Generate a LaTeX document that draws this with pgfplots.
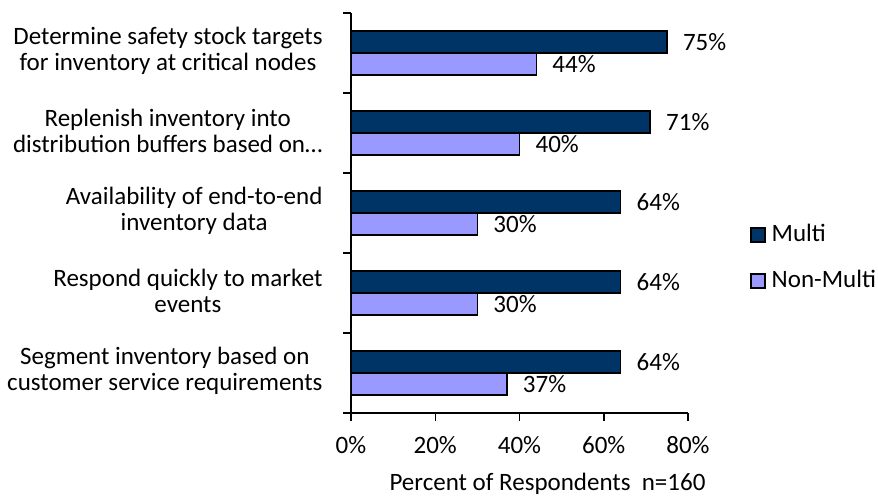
\documentclass[border=0pt]{standalone}
\usepackage{pgfplots}
\pgfplotsset{compat=1.18}
\usepackage{fontspec}
\setmainfont{Carlito}
\definecolor{multi}{HTML}{003366}
\definecolor{nonmulti}{HTML}{9999FF}
\begin{document}
\fontsize{25}{26.5}\selectfont
\begin{tikzpicture}
\useasboundingbox (0,0) rectangle (878pt,498pt);
\begin{axis}[
  at={(351pt,85pt)}, anchor=south west,
  scale only axis, width=337pt, height=400pt,
  xbar, bar width=22pt,
  xmin=0, xmax=80, ymin=-0.5, ymax=4.5,
  axis lines=left,
  axis line style={-, line width=1.5pt},
  /pgf/number format/assume math mode=true,
  xtick={0,20,40,60,80},
  xticklabel={\pgfmathprintnumber{\tick}\%},
  every major x tick/.append style={line width=1.5pt, black},
  ytick={0,1,2,3,4},
  every major y tick/.append style={draw=none},
  minor ytick={-0.5,0.5,1.5,2.5,3.5,4.5},
  every minor y tick/.append style={line width=1.5pt, black},
  tick align=outside,
  major tick length=8pt, minor tick length=8pt,
  yticklabels={{Segment inventory based on\\customer service requirements},{Respond quickly to market\\events},{Availability of end-to-end\\inventory data},{Replenish inventory into\\distribution buffers based on\ldots},{Determine safety stock targets\\for inventory at critical nodes}},
  yticklabel style={align=center, xshift=-12pt, yshift=2pt},
  xticklabel style={yshift=-7pt},
  xlabel={Percent of Respondents\ \ n=160},
  xlabel style={xshift=28pt, yshift=-2pt},
  point meta=x,
  nodes near coords={\pgfmathprintnumber{\pgfplotspointmeta}\%},
  every node near coord/.append style={anchor=west, xshift=7pt, black},
  legend style={at={(1.175,0.3875)}, anchor=west, draw=none, fill=none, row sep=21pt,
    /tikz/every odd column/.append style={column sep=4pt}},
  legend cell align=left,
]
\addplot[draw=black, line width=1.5pt, fill=multi, bar shift=11pt,
  legend image code/.code={\draw[draw=black, line width=1.5pt, fill=multi] (0pt,-7pt) rectangle (14pt,7pt);}]
  coordinates {(64,0) (64,1) (64,2) (71,3) (75,4)};
\addlegendentry{Multi}
\addplot[draw=black, line width=1.5pt, fill=nonmulti, bar shift=-11pt,
  legend image code/.code={\draw[draw=black, line width=1.5pt, fill=nonmulti] (0pt,-7pt) rectangle (14pt,7pt);}]
  coordinates {(37,0) (30,1) (30,2) (40,3) (44,4)};
\addlegendentry{Non-Multi}
\end{axis}
\end{tikzpicture}
\end{document}
